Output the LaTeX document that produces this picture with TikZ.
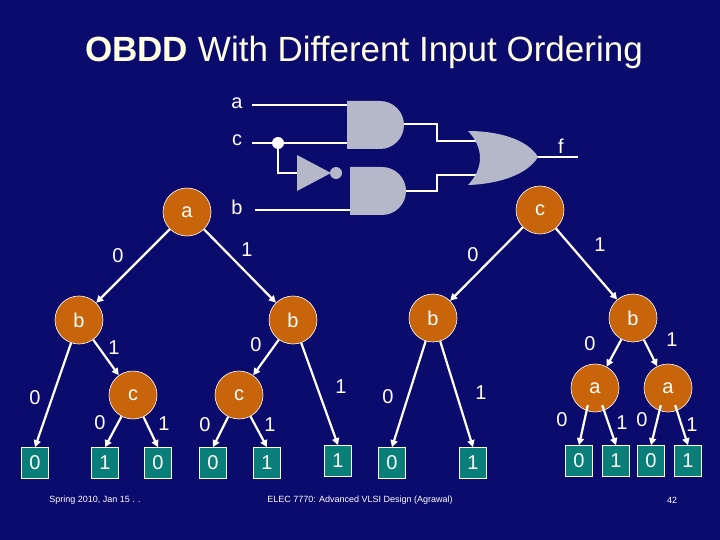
\documentclass[tikz,border=0pt]{standalone}
\usepackage{fontspec}
\setmainfont{Liberation Sans}
\usetikzlibrary{arrows.meta}
\definecolor{bg}{HTML}{0B0B6E}
\definecolor{nodeor}{HTML}{C8640A}
\definecolor{leaft}{HTML}{0A7F7A}
\definecolor{gate}{HTML}{B4B8C8}
\definecolor{ttl}{HTML}{FFFFE0}
\begin{document}
\begin{tikzpicture}[x=1pt,y=-1pt,
  var/.style={circle,fill=nodeor,draw=white,line width=0.6pt,minimum size=48pt,inner sep=0pt,text=white,font=\fontsize{20}{20}\selectfont},
  leaf/.style={rectangle,fill=leaft,draw=white,line width=0.6pt,minimum width=27pt,minimum height=31pt,inner sep=0pt,text=white,font=\fontsize{20}{20}\selectfont},
  edge/.style={draw=white,line width=2.2pt,-{Triangle[length=7pt,width=7pt]}},
  lab/.style={text=white,font=\fontsize{20}{20}\selectfont},
  wire/.style={draw=white,line width=2pt},
  gt/.style={fill=gate,draw=none}]
\fill[bg] (0,0) rectangle (720,540);
\useasboundingbox (0,0) rectangle (720,540);
\node[text=ttl,font=\fontsize{35}{35}\selectfont] (title) at (364,52) {\textbf{OBDD} With Different Input Ordering};
% circuit
\node[lab] (la) at (237,103) {a};
\node[lab] (lc) at (237,140) {c};
\node[lab] (lb) at (237,207) {b};
\node[lab] (lf) at (561,146) {f};
\coordinate (dot) at (278,143);
\draw[wire] (252,105) -- (348,105);
\draw[wire] (252,143) -- (348,143);
\draw[wire] (dot) -- (278,173) -- (298,173);
\draw[wire] (255,210) -- (351,210);
\draw[wire] (400,124) -- (437,124) -- (437,141) -- (482,141);
\draw[wire] (400,191) -- (437,191) -- (437,175) -- (482,175);
\draw[wire] (535,157) -- (578,157);
\fill[white] (dot) circle (6);
\fill[gt] (347,101) -- (380,101) arc (-90:90:24) -- (347,149) -- cycle;
\fill[gt] (350,167) -- (382,167) arc (-90:90:24) -- (350,215) -- cycle;
\fill[gt] (297,155) -- (331,173) -- (297,191) -- cycle;
\fill[gt] (336,173) circle (6);
\fill[gt] (468,131) .. controls (500,131) and (528,140) .. (538,157)
  .. controls (528,174) and (500,184) .. (468,185)
  .. controls (484,168) and (484,148) .. (468,131) -- cycle;
% left tree
\node[var] (A) at (187,212) {a};
\node[var] (B1) at (79,320) {b};
\node[var] (B2) at (293,320) {b};
\node[var] (C1) at (133,395) {c};
\node[var] (C2) at (239,395) {c};
\node[leaf] (L1) at (35,463) {0};
\node[leaf] (L2) at (105,463) {1};
\node[leaf] (L3) at (158,463) {0};
\node[leaf] (L4) at (213,463) {0};
\node[leaf] (L5) at (267,463) {1};
\node[leaf] (L6) at (338,461) {1};
\draw[edge] (A) -- (B1); \draw[edge] (A) -- (B2);
\draw[edge] (B1) -- (L1.north); \draw[edge] (B1) -- (C1);
\draw[edge] (C1) -- (L2.north); \draw[edge] (C1) -- (L3.north);
\draw[edge] (B2) -- (C2); \draw[edge] (B2) -- (L6.north);
\draw[edge] (C2) -- (L4.north); \draw[edge] (C2) -- (L5.north);
\node[lab] at (118,256) {0}; \node[lab] at (247,250) {1};
\node[lab] at (35,398) {0}; \node[lab] at (114,348) {1};
\node[lab] at (100,423) {0}; \node[lab] at (164,424) {1};
\node[lab] at (256,345) {0}; \node[lab] at (341,387) {1};
\node[lab] at (205,425) {0}; \node[lab] at (270,425) {1};
% right tree
\node[var] (R) at (540,210) {c};
\node[var] (RB1) at (433,318) {b};
\node[var] (RB2) at (633,318) {b};
\node[var] (RA1) at (595,388) {a};
\node[var] (RA2) at (668,388) {a};
\node[leaf] (M1) at (392,463) {0};
\node[leaf] (M2) at (473,463) {1};
\node[leaf] (M3) at (579,461) {0};
\node[leaf] (M4) at (616,461) {1};
\node[leaf] (M5) at (651,461) {0};
\node[leaf] (M6) at (688,461) {1};
\draw[edge] (R) -- (RB1); \draw[edge] (R) -- (RB2);
\draw[edge] (RB1) -- (M1.north); \draw[edge] (RB1) -- (M2.north);
\draw[edge] (RB2) -- (RA1); \draw[edge] (RB2) -- (RA2);
\draw[edge] (RA1.south west) ++(10,0) -- (M3.north);
\draw[edge] (RA1.south east) ++(-10,0) -- (M4.north);
\draw[edge] (RA2.south west) ++(10,0) -- (M5.north);
\draw[edge] (RA2.south east) ++(-10,0) -- (M6.north);
\node[lab] at (473,255) {0}; \node[lab] at (600,245) {1};
\node[lab] at (388,397) {0}; \node[lab] at (481,393) {1};
\node[lab] at (590,344) {0}; \node[lab] at (672,340) {1};
\node[lab] at (562,420) {0}; \node[lab] at (622,423) {1};
\node[lab] at (642,420) {0}; \node[lab] at (692,425) {1};
% footer
\node[text=white,font=\fontsize{9}{9}\selectfont] (f1) at (95,500) {Spring 2010, Jan 15 . .};
\node[text=white,font=\fontsize{9}{9}\selectfont] (f2) at (360,500) {ELEC 7770: Advanced VLSI Design (Agrawal)};
\node[text=white,font=\fontsize{9}{9}\selectfont] (f3) at (672,500) {42};
\end{tikzpicture}
\end{document}
